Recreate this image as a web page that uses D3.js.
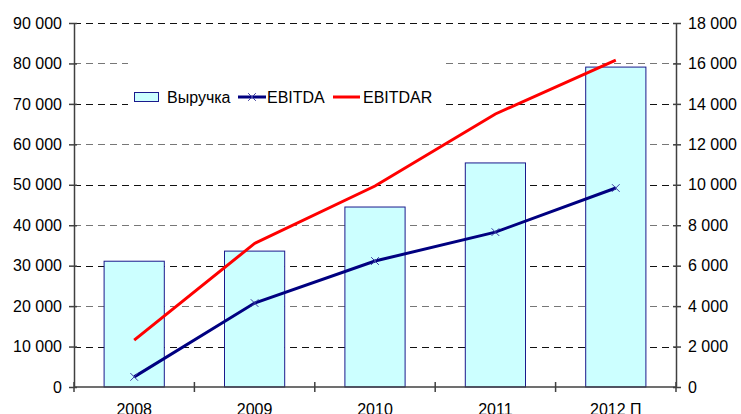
<!DOCTYPE html>
<html>
<head>
<meta charset="utf-8">
<script src="https://cdn.jsdelivr.net/npm/d3@7"></script>
<style>
  body { margin: 0; background: #fff; }
  svg { display: block; font-family: "Liberation Sans", Arial, sans-serif; }
</style>
</head>
<body>
<div id="chart"></div>
<script>
const years = ["2008", "2009", "2010", "2011", "2012 П"];
const revenue = [31100, 33600, 44500, 55400, 79100];
const ebitda = [500, 4150, 6230, 7660, 9840];
const ebitdar = [2320, 7100, 9940, 13500, 16170];
const leftTicks = d3.range(0, 90001, 10000);
const rightTicks = d3.range(0, 18001, 2000);

const W = 741, H = 414;
const margin = { top: 23, right: 65, bottom: 27, left: 74 };
const width = W - margin.left - margin.right;
const height = H - margin.top - margin.bottom;
const fs = "16px";

const fmt = v => d3.format(",")(v).replace(/,/g, " ");

const svg = d3.select("#chart").append("svg")
  .attr("width", W).attr("height", H)
  .append("g")
  .attr("transform", `translate(${margin.left},${margin.top})`);

const x = d3.scaleBand().domain(years).range([0, width]).paddingInner(0.5).paddingOuter(0.25);
const yL = d3.scaleLinear().domain([0, 90000]).range([height, 0]);
const yR = d3.scaleLinear().domain([0, 18000]).range([height, 0]);

// gridlines
svg.append("g")
  .selectAll("line")
  .data(leftTicks.slice(1))
  .enter().append("line")
  .attr("x1", 0).attr("x2", width)
  .attr("y1", d => Math.round(yL(d)) + 0.5)
  .attr("y2", d => Math.round(yL(d)) + 0.5)
  .style("stroke", (d, i) => i % 2 ? "#777" : "#111")
  .style("stroke-dasharray", "7,5");

// bars
svg.selectAll("rect.bar")
  .data(revenue)
  .enter().append("rect")
  .attr("class", "bar")
  .attr("x", (d, i) => x(years[i]))
  .attr("y", d => yL(d))
  .attr("width", x.bandwidth())
  .attr("height", d => height - yL(d))
  .style("fill", "#ccffff")
  .style("stroke", "#1a1a8c")
  .style("stroke-width", 1);

const cx = (d, i) => x(years[i]) + x.bandwidth() / 2;

svg.append("path")
  .datum(ebitdar)
  .attr("d", d3.line().x(cx).y(d => yR(d)))
  .style("fill", "none")
  .style("stroke", "#ff0000")
  .style("stroke-width", 3);

svg.append("path")
  .datum(ebitda)
  .attr("d", d3.line().x(cx).y(d => yR(d)))
  .style("fill", "none")
  .style("stroke", "#000080")
  .style("stroke-width", 3);

svg.selectAll("path.mark")
  .data(ebitda)
  .enter().append("path")
  .attr("class", "mark")
  .attr("transform", (d, i) => `translate(${cx(d, i)},${yR(d)})`)
  .attr("d", d3.symbol(d3.symbolX, 40))
  .style("fill", "none")
  .style("stroke", "#3a3aa0")
  .style("stroke-width", 1);

// axes
const axisStyle = g => {
  g.selectAll(".domain").style("stroke", "#404040").style("stroke-width", 1.5);
  g.selectAll(".tick line").style("stroke", "#404040").style("stroke-width", 1.5);
  g.selectAll("text").style("font-size", fs).style("fill", "#000");
};

svg.append("g")
  .call(d3.axisLeft(yL).tickValues(leftTicks).tickFormat(fmt).tickSizeInner(5).tickSizeOuter(0).tickPadding(7))
  .call(g => g.selectAll(".tick line").attr("x2", -5).attr("x1", 3))
  .call(axisStyle)
  .attr("font-family", null);

svg.append("g")
  .attr("transform", `translate(${width},0)`)
  .call(d3.axisRight(yR).tickValues(rightTicks).tickFormat(fmt).tickSizeInner(5).tickSizeOuter(0).tickPadding(7))
  .call(g => g.selectAll(".tick line").attr("x1", -3).attr("x2", 5))
  .call(axisStyle)
  .attr("font-family", null);

// x axis: line, ticks between categories, labels
const xg = svg.append("g").attr("transform", `translate(0,${height})`);
xg.append("line").attr("x1", 0).attr("x2", width)
  .style("stroke", "#404040").style("stroke-width", 1.5);
const step = x.step();
xg.selectAll("line.t")
  .data(d3.range(0, years.length + 1))
  .enter().append("line")
  .attr("class", "t")
  .attr("x1", d => d * step).attr("x2", d => d * step)
  .attr("y1", -5).attr("y2", 5)
  .style("stroke", "#404040").style("stroke-width", 1.5);
xg.selectAll("text")
  .data(years)
  .enter().append("text")
  .attr("x", d => x(d) + x.bandwidth() / 2)
  .attr("y", 27.5)
  .attr("text-anchor", "middle")
  .style("font-size", fs)
  .text(d => d);

// legend
const lg = svg.append("g").attr("transform", `translate(${128 - margin.left},${59 - margin.top})`);
lg.append("rect").attr("width", 318).attr("height", 50).style("fill", "#fff");
lg.append("rect").attr("x", 6.5).attr("y", 33.5).attr("width", 24).attr("height", 9)
  .style("fill", "#ccffff").style("stroke", "#1a1a8c");
lg.append("text").attr("x", 39).attr("y", 44).style("font-size", fs).text("Выручка");
lg.append("line").attr("x1", 110).attr("x2", 138).attr("y1", 38).attr("y2", 38)
  .style("stroke", "#000080").style("stroke-width", 3);
lg.append("path").attr("transform", "translate(124,38)").attr("d", d3.symbol(d3.symbolX, 40))
  .style("fill", "none").style("stroke", "#3a3aa0");
lg.append("text").attr("x", 139).attr("y", 44).style("font-size", fs).text("EBITDA");
lg.append("line").attr("x1", 205).attr("x2", 232).attr("y1", 38).attr("y2", 38)
  .style("stroke", "#ff0000").style("stroke-width", 3);
lg.append("text").attr("x", 235).attr("y", 44).style("font-size", fs).text("EBITDAR");
</script>
</body>
</html>
